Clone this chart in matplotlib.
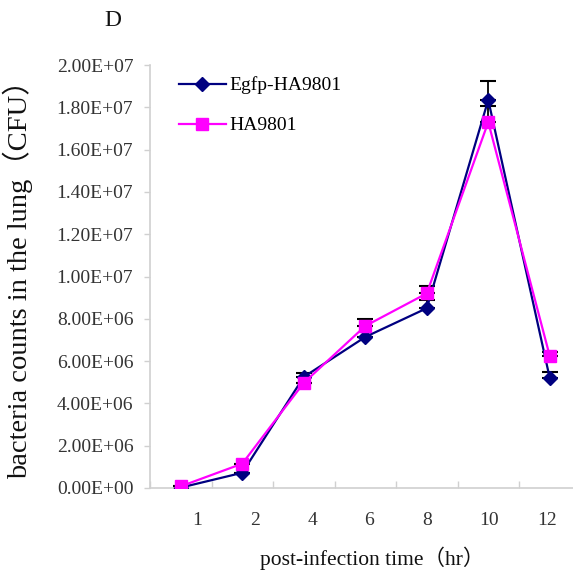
import matplotlib
matplotlib.use("Agg")
import matplotlib.pyplot as plt
from matplotlib.ticker import FuncFormatter, FixedLocator
import numpy as np

categories = ["1", "2", "4", "6", "8", "10", "12"]
egfp = [0.02e6, 0.72e6, 5.25e6, 7.14e6, 8.50e6, 18.35e6, 5.20e6]
egfp_err = [0.0, 0.0, 0.20e6, 0.0, 0.40e6, 0.90e6, 0.28e6]
ha = [0.08e6, 1.15e6, 4.97e6, 7.66e6, 9.20e6, 17.30e6, 6.24e6]
ha_err = [0.0, 0.0, 0.0, 0.34e6, 0.35e6, 0.76e6, 0.19e6]
series_names = ["Egfp-HA9801", "HA9801"]
y_title = "bacteria counts in the lung（CFU）"
x_title = "post-infection time（hr）"
panel = "D"

serif = ["Liberation Serif", "Noto Sans CJK SC", "DejaVu Serif"]

fig = plt.figure(figsize=(5.73, 5.75), dpi=100)
ax = fig.add_axes([150/573, 87/575, 430.5/573, 423/575])

x = np.arange(len(categories)) + 0.5

navy = "#000080"
mag = "#FF00FF"

ax.errorbar(x, egfp, yerr=[np.zeros(len(x)), egfp_err], fmt="none",
            ecolor="black", elinewidth=1.3, capsize=6, capthick=1.5, zorder=2)
ax.errorbar(x, ha, yerr=[np.zeros(len(x)), ha_err], fmt="none",
            ecolor="black", elinewidth=1.3, capsize=6, capthick=1.5, zorder=2)
ax.plot(x, egfp, color=navy, lw=1.6, marker="D", ms=7, mfc=navy, mec=navy,
        label=series_names[0], zorder=3)
ax.plot(x, ha, color=mag, lw=1.6, marker="s", ms=8, mfc=mag, mec=mag,
        label=series_names[1], zorder=4)

ax.set_xlim(0, len(categories))
ax.set_ylim(0, 2.0e7)


def sci(v, p):
    if v <= 0:
        return "0.00E+00"
    e = int(np.floor(np.log10(v) + 1e-9))
    return "%.2fE+%02d" % (v / 10**e, e)


ax.yaxis.set_major_locator(FixedLocator(np.arange(0, 2.01e7, 2e6)))
ax.yaxis.set_major_formatter(FuncFormatter(sci))

# category boundaries as major ticks (no labels), labels as minor ticks
ax.xaxis.set_major_locator(FixedLocator(np.arange(0, len(categories) + 1)))
ax.xaxis.set_major_formatter(FuncFormatter(lambda v, p: ""))
label_pos = [0.76, 1.71, 2.64, 3.56, 4.51, 5.52, 6.46]
ax.xaxis.set_minor_locator(FixedLocator(label_pos))
ax.set_xticklabels(categories, minor=True)
ax.tick_params(axis="x", which="minor", length=0, pad=17, labelsize=14)
ax.tick_params(axis="x", which="major", direction="in", length=5, color="#d0d0d0", width=1)
ax.tick_params(axis="y", which="major", direction="out", length=4, color="#d0d0d0", width=1,
               labelsize=14, pad=8)
for lab in ax.get_xticklabels(minor=True) + ax.get_yticklabels():
    lab.set_family(serif)
    lab.set_color("#333333")

for s in ["top", "right"]:
    ax.spines[s].set_visible(False)
for s in ["left", "bottom"]:
    ax.spines[s].set_color("#d0d0d0")
    ax.spines[s].set_linewidth(1.2)

fig.text(18/573, 1 - 273/575, y_title, rotation=90, ha="center", va="center",
         fontsize=20.5, family=serif, color="#111111")
fig.text(372/573, 1 - 558/575, x_title, ha="center", va="center",
         fontsize=15.5, family=serif, color="#111111")
fig.text(113/573, 1 - 20/575, panel, ha="center", va="center",
         fontsize=17, family=serif, color="#111111")

leg = ax.legend(loc="upper left", bbox_to_anchor=(0.027, 1.014), frameon=False,
                prop={"family": serif, "size": 14}, handlelength=2.4,
                labelspacing=1.15, handletextpad=0.2)

fig.savefig("out.png", dpi=100)
